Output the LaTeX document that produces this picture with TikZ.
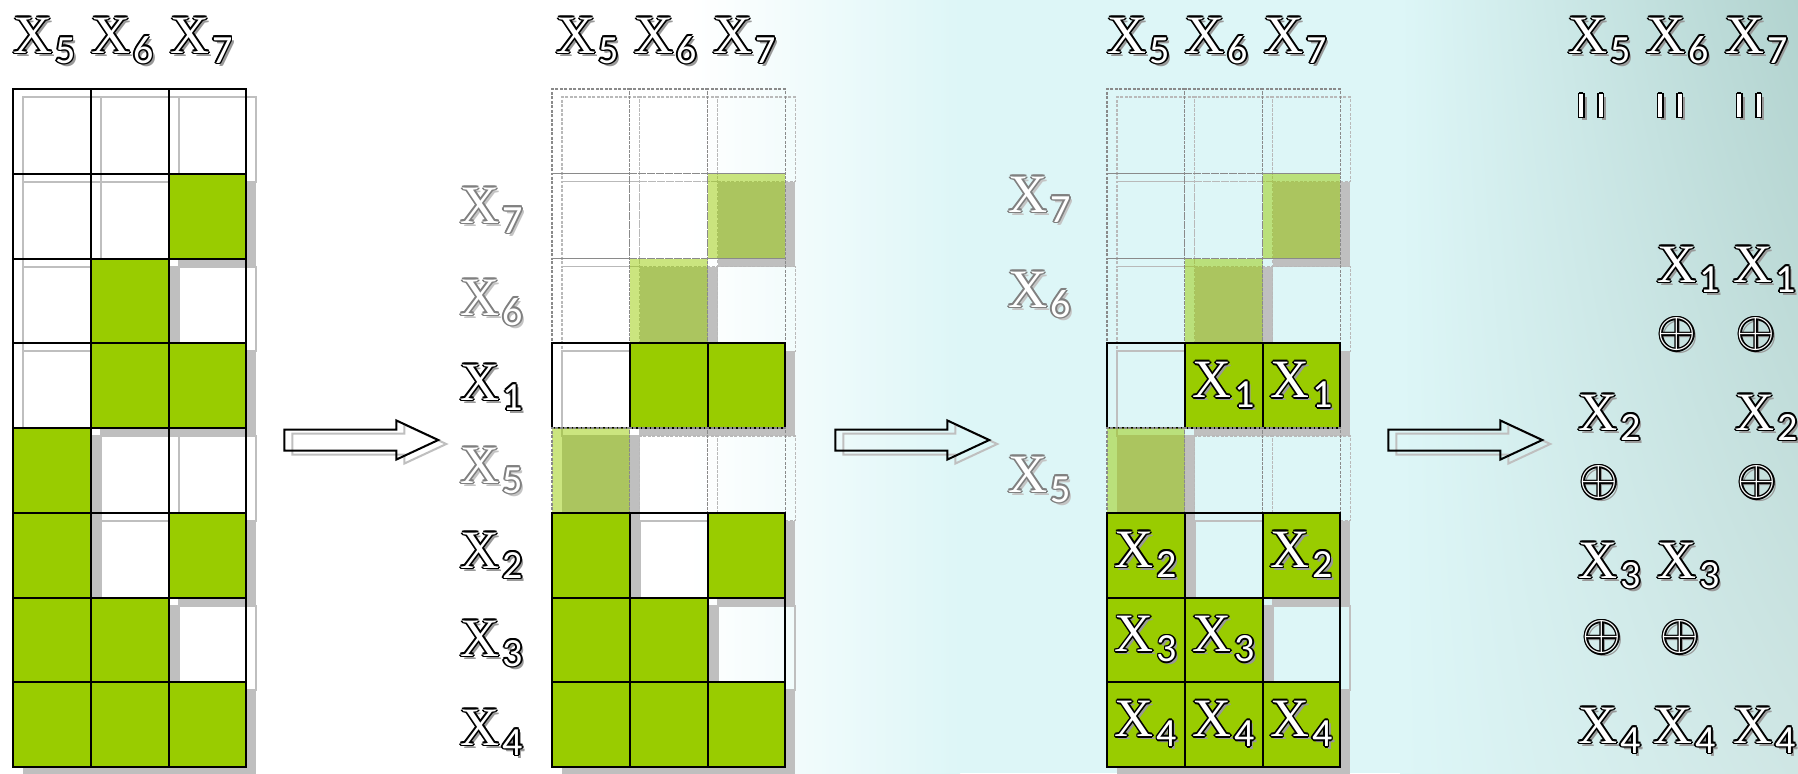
\documentclass[tikz,border=0pt]{standalone}
\usepackage{fontspec}
\usepackage{graphicx}
\newfontfamily\xfont{Liberation Serif}
\newfontfamily\subfont{Carlito}
\usetikzlibrary{shapes.arrows,shadings,positioning}
\definecolor{leaf}{HTML}{99CC00}
\definecolor{cellshade}{HTML}{BFBFBF}
\definecolor{ghostline}{HTML}{8A8A8A}
\definecolor{textshade}{HTML}{999999}
\definecolor{ghosttext}{HTML}{808080}
\definecolor{ghostshade}{HTML}{C4C4C4}
\definecolor{mist}{HTML}{DDF6F7}
\definecolor{sea}{HTML}{B2D3CF}
\definecolor{seapale}{HTML}{CFE6E4}
% outlined white text with a drop shadow
\newcommand\rim[3]{\rlap{\hspace*{#1}\raisebox{#2}{#3}}}
\newcommand\hollow[3]{%
  \rim{1.6pt}{-1.6pt}{\color{#2}#3}%
  \rim{0.8pt}{0pt}{\color{#1}#3}\rim{-0.8pt}{0pt}{\color{#1}#3}%
  \rim{0pt}{0.8pt}{\color{#1}#3}\rim{0pt}{-0.8pt}{\color{#1}#3}%
  \rim{0.57pt}{0.57pt}{\color{#1}#3}\rim{-0.57pt}{0.57pt}{\color{#1}#3}%
  \rim{0.57pt}{-0.57pt}{\color{#1}#3}\rim{-0.57pt}{-0.57pt}{\color{#1}#3}%
  {\color{white}#3}}
\newcommand\xvar[1]{{\xfont\fontsize{27}{30}\selectfont X}\kern1.5pt\raisebox{-5pt}{\subfont\fontsize{20}{22}\selectfont #1}}
\newcommand\xlab[1]{\hollow{black}{textshade}{\xvar{#1}}}
\newcommand\xdim[1]{\hollow{ghosttext}{ghostshade}{\xvar{#1}}}
\newcommand\xor{\hollow{black}{textshade}{\fontsize{29}{32}\selectfont$\oplus$}}
\newcommand\eqbar{\hollow{black}{textshade}{\rule{2.1pt}{11.4pt}\hspace{7.6pt}\rule{2.1pt}{11.4pt}}}
\tikzset{
  cell/.style={minimum width=38.875pt, minimum height=42.375pt, inner sep=0pt, outer sep=0pt},
  bare/.style={cell, draw, line width=1pt},
  lit/.style={bare, fill=leaf},
  ghost/.style={cell, draw=ghostline, dash pattern=on 1.5pt off 0.75pt, line width=0.6pt},
  faded/.style={ghost, fill=leaf, fill opacity=0.5},
  bare shadow/.style={cell, draw=cellshade, line width=1pt},
  lit shadow/.style={cell, fill=cellshade},
  ghost shadow/.style={cell, draw=ghostline!60, dash pattern=on 1.5pt off 0.75pt, line width=0.6pt},
  faded shadow/.style={cell, fill=cellshade},
  lab/.style={anchor=base west, inner sep=0pt},
  bigarrow/.style={single arrow, draw, line width=1pt, minimum height=77pt, inner xsep=0pt, inner ysep=4.75pt,
                   single arrow head extend=4.5pt, single arrow tip angle=50},
  arrow shadow/.style={bigarrow, draw=cellshade},
}
\begin{document}
\begin{tikzpicture}[x=0.5pt,y=-0.5pt]
  \useasboundingbox (0,0) rectangle (1798,773);
  % background
  \fill[white] (0,0) rectangle (1798,773);
  \shade[left color=white, right color=mist] (690,0) rectangle (960,773);
  \fill[mist] (960,0) rectangle (1400,773);
  \shade[upper left=mist, lower left=mist, upper right=sea, lower right=seapale] (1400,0) rectangle (1798,773);

  % truth table
  \foreach \r/\cells in {1/{bare,bare,bare},2/{bare,bare,lit},3/{bare,lit,bare},4/{bare,lit,lit},
                         5/{lit,bare,bare},6/{lit,bare,lit},7/{lit,lit,bare},8/{lit,lit,lit}} {
    \foreach \k [count=\c] in \cells {
      \node[\k\space shadow] (sa\r\c) at ({13+(\c-0.5)*77.75+10},{89+(\r-0.5)*84.75+8}) {};
      \node[\k] (a\r\c) at ({13+(\c-0.5)*77.75},{89+(\r-0.5)*84.75}) {};
    }
  }
  % reordered tables
  \foreach \px/\pn in {552/b,1107/c} {
    \foreach \r/\cells in {1/{ghost,ghost,ghost},2/{ghost,ghost,faded},3/{ghost,faded,ghost},4/{bare,lit,lit},
                           5/{faded,ghost,ghost},6/{lit,bare,lit},7/{lit,lit,bare},8/{lit,lit,lit}} {
      \foreach \k [count=\c] in \cells {
        \node[\k\space shadow] (s\pn\r\c) at ({\px+(\c-0.5)*77.75+10},{89+(\r-0.5)*84.75+8}) {};
        \node[\k] (\pn\r\c) at ({\px+(\c-0.5)*77.75},{89+(\r-0.5)*84.75}) {};
      }
    }
  }

  % column heads
  \foreach \px/\pn in {13/a,556/b,1107/c,1568/d} {
    \node[lab] (\pn h5) at (\px,53) {\xlab{5}};
    \node[lab] (\pn h6) at (\px+78,53) {\xlab{6}};
    \node[lab] (\pn h7) at (\px+157,53) {\xlab{7}};
  }

  % row labels
  \node[lab] (bl7) at (460,223) {\xdim{7}};
  \node[lab] (bl6) at (460,315) {\xdim{6}};
  \node[lab] (bl1) at (460,400) {\xlab{1}};
  \node[lab] (bl5) at (460,483) {\xdim{5}};
  \node[lab] (bl2) at (460,568) {\xlab{2}};
  \node[lab] (bl3) at (460,656) {\xlab{3}};
  \node[lab] (bl4) at (460,745) {\xlab{4}};
  \node[lab] (cl7) at (1008,212) {\xdim{7}};
  \node[lab] (cl6) at (1008,307) {\xdim{6}};
  \node[lab] (cl5) at (1008,492) {\xdim{5}};

  % cell entries
  \node (t42) at (c42) {\xlab{1}};
  \node (t43) at (c43) {\xlab{1}};
  \node (t61) at (c61) {\xlab{2}};
  \node (t63) at (c63) {\xlab{2}};
  \node (t71) at (c71) {\xlab{3}};
  \node (t72) at (c72) {\xlab{3}};
  \node (t81) at (c81) {\xlab{4}};
  \node (t82) at (c82) {\xlab{4}};
  \node (t83) at (c83) {\xlab{4}};

  % arrows
  \foreach \ax [count=\i] in {350,901,1454} {
    \node[arrow shadow] (go\i s) at (\ax+8,444) {};
    \node[bigarrow] (go\i) at (\ax,440) {};
  }

  % equations
  \node (e5) at (1591,106) {\eqbar};
  \node (e6) at (1670,106) {\eqbar};
  \node (e7) at (1749,106) {\eqbar};
  \node[lab] (q1a) at (1657,282) {\xlab{1}};
  \node[lab] (q1b) at (1733,282) {\xlab{1}};
  \node (o1a) at (1677,335) {\xor};
  \node (o1b) at (1756,335) {\xor};
  \node[lab] (q2a) at (1578,430) {\xlab{2}};
  \node[lab] (q2b) at (1735,430) {\xlab{2}};
  \node (o2a) at (1599,483) {\xor};
  \node (o2b) at (1757,483) {\xor};
  \node[lab] (q3a) at (1578,578) {\xlab{3}};
  \node[lab] (q3b) at (1657,578) {\xlab{3}};
  \node (o3a) at (1602,638) {\xor};
  \node (o3b) at (1680,638) {\xor};
  \node[lab] (q4a) at (1578,743) {\xlab{4}};
  \node[lab] (q4b) at (1653,743) {\xlab{4}};
  \node[lab] (q4c) at (1733,743) {\xlab{4}};
\end{tikzpicture}
\end{document}
